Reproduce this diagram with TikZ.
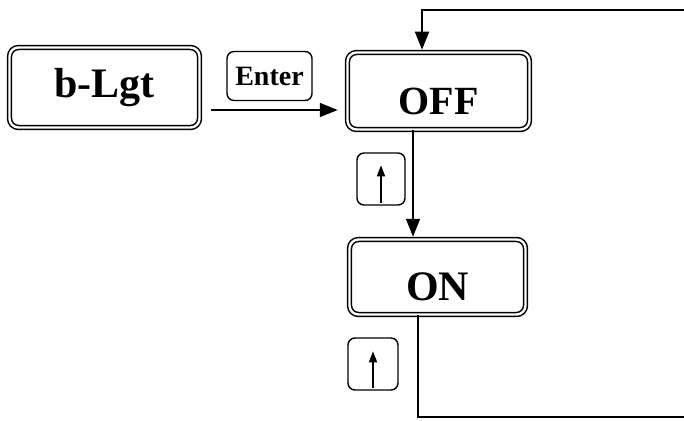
\documentclass[tikz,border=0pt]{standalone}
\usepackage{fontspec}
\setmainfont{Liberation Serif}
\usetikzlibrary{arrows.meta}
\tikzset{
  dbox/.style={draw, double, double distance=2.4pt, line width=1.5pt, rounded corners=9pt,
    font=\bfseries\fontsize{40}{42}\selectfont, inner sep=0pt},
  keybox/.style={draw, line width=1.4pt, rounded corners=7pt, inner sep=0pt},
  arr/.style={line width=1.5pt, -{Triangle[length=18pt,width=14pt]}},
  line/.style={line width=1.5pt},
  keyarr/.style={line width=1.7pt, -{Triangle[length=11pt,width=8pt]}}
}
\begin{document}
\begin{tikzpicture}[x=1pt,y=-1pt]
\useasboundingbox[fill=white] (0,0) rectangle (684,420);
\node[dbox, minimum width=190pt, minimum height=80pt, font=\bfseries\fontsize{42}{44}\selectfont] (blgt) at (104.5,87.5) {b-Lgt};
\node[keybox, minimum width=85pt, minimum height=49pt, font=\bfseries\fontsize{28}{30}\selectfont] (enter) at (269.5,76) {Enter};
\node[dbox, minimum width=182pt, minimum height=77pt, text height=46pt, text depth=0pt] (off) at (438.5,91) {OFF};
\node[dbox, minimum width=176pt, minimum height=75pt, text height=46pt, text depth=0pt, font=\bfseries\fontsize{42}{44}\selectfont] (on) at (437.5,277) {ON};
\node[keybox, minimum width=48pt, minimum height=52pt] (k1) at (381,179) {};
\node[keybox, minimum width=50pt, minimum height=52pt] (k2) at (373,364) {};
\draw[keyarr] ([yshift=3pt]k1.south) -- ([yshift=-13pt]k1.north);
\draw[keyarr] ([yshift=3pt]k2.south) -- ([yshift=-14pt]k2.north);
\coordinate (ay) at (0,110);
\coordinate (tr) at (684,10);
\coordinate (br) at (684,417);
\draw[arr] ([xshift=11pt]blgt.east |- ay) -- ([xshift=-9pt]off.west |- ay);
\draw[arr] (tr) -| ([xshift=-16.5pt,yshift=2pt]off.north);
\draw[arr] ([xshift=-25.5pt]off.south) -- ([xshift=-25.5pt,yshift=2pt]off.south |- on.north);
\draw[line] ([xshift=-19.5pt]on.south) |- (br);
\end{tikzpicture}
\end{document}
